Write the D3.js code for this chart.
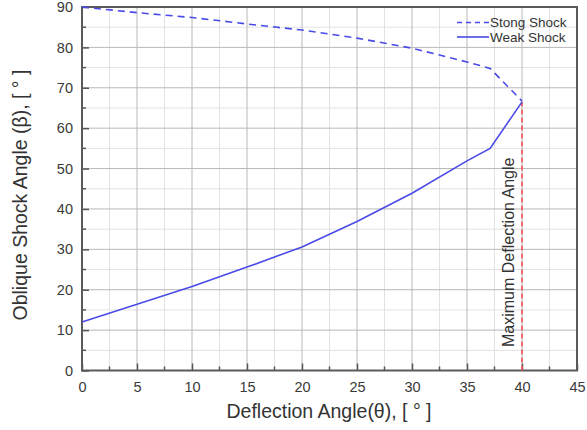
<!DOCTYPE html>
<html><head><meta charset="utf-8">
<script src="https://cdn.jsdelivr.net/npm/d3@7"></script>
<style>body{margin:0;background:#fff}svg{display:block}</style>
</head><body>
<script>
const strongTheta = [0, 5, 10, 15, 20, 25, 30, 35, 37.1, 40];
const strongBeta  = [90, 88.6, 87.4, 85.8, 84.3, 82.3, 79.8, 76.4, 74.8, 66.7];
const weakTheta = [0, 5, 10, 15, 20, 25, 30, 35, 37.1, 40];
const weakBeta  = [12, 16.4, 20.8, 25.6, 30.6, 36.9, 43.9, 51.9, 55.0, 66.5];
const maxDeflection = 40;
const xTicks = [0, 5, 10, 15, 20, 25, 30, 35, 40, 45];
const yTicks = [0, 10, 20, 30, 40, 50, 60, 70, 80, 90];
const legendLabels = ["Stong Shock", "Weak Shock"];

const W = 587, H = 430;
const svg = d3.select("body").append("svg").attr("width", W).attr("height", H);
const x = d3.scaleLinear().domain([0, 45]).range([82, 577]);
const y = d3.scaleLinear().domain([0, 90]).range([370.5, 7]);
const font = "Liberation Sans, Arial, sans-serif";

const minorX = d3.range(2.5, 45, 5);
const minorY = d3.range(5, 90, 10);
const g = svg.append("g");
// minor grid
g.selectAll(".mgx").data(minorX).join("line")
  .attr("x1", d => x(d)).attr("x2", d => x(d)).attr("y1", y(0)).attr("y2", y(90))
  .attr("stroke", "#e2e2e2").attr("stroke-width", 1);
g.selectAll(".mgy").data(minorY).join("line")
  .attr("y1", d => y(d)).attr("y2", d => y(d)).attr("x1", x(0)).attr("x2", x(45))
  .attr("stroke", "#e2e2e2").attr("stroke-width", 1);
// major grid
g.selectAll(".gx").data(xTicks).join("line")
  .attr("x1", d => x(d)).attr("x2", d => x(d)).attr("y1", y(0)).attr("y2", y(90))
  .attr("stroke", "#b8b8b8").attr("stroke-width", 1);
g.selectAll(".gy").data(yTicks).join("line")
  .attr("y1", d => y(d)).attr("y2", d => y(d)).attr("x1", x(0)).attr("x2", x(45))
  .attr("stroke", "#b8b8b8").attr("stroke-width", 1);

// axes
const xAxis = d3.axisBottom(x).tickValues(xTicks).tickSize(-7).tickPadding(14).tickFormat(d3.format("d"));
const yAxis = d3.axisLeft(y).tickValues(yTicks).tickSize(-7).tickPadding(9).tickFormat(d3.format("d"));
const gx = svg.append("g").attr("transform", `translate(0,${y(0)})`).call(xAxis);
const gy = svg.append("g").attr("transform", `translate(${x(0)},0)`).call(yAxis);
[gx, gy].forEach(a => {
  a.select(".domain").remove();
  a.selectAll(".tick line").attr("stroke", "#555").attr("stroke-width", 1.5);
  a.selectAll(".tick text").attr("fill", "#3a3a3a").style("font-family", font).style("font-size", "14.5px");
});
gx.selectAll(".tick text").attr("dy", "0.35em").attr("y", 16);
// minor ticks
svg.selectAll(".mtx").data(minorX).join("line")
  .attr("x1", d => x(d)).attr("x2", d => x(d)).attr("y1", y(0)).attr("y2", y(0) - 4)
  .attr("stroke", "#555").attr("stroke-width", 1.5);
svg.selectAll(".mty").data(minorY).join("line")
  .attr("y1", d => y(d)).attr("y2", d => y(d)).attr("x1", x(0)).attr("x2", x(0) + 4)
  .attr("stroke", "#555").attr("stroke-width", 1.5);
// frame
svg.append("rect").attr("x", x(0)).attr("y", y(90)).attr("width", x(45) - x(0)).attr("height", y(0) - y(90))
  .attr("fill", "none").attr("stroke", "#5a5a5a").attr("stroke-width", 2);

// red vertical line
svg.append("line").attr("x1", x(maxDeflection)).attr("x2", x(maxDeflection))
  .attr("y1", y(0)).attr("y2", y(weakBeta[weakBeta.length - 1]))
  .attr("stroke", "#f0505a").attr("stroke-width", 1.6).attr("stroke-dasharray", "5,3");

const line = d3.line().x(d => x(d[0])).y(d => y(d[1]));
const blue = "#4a4ae8";
svg.append("path").datum(strongTheta.map((t, i) => [t, strongBeta[i]])).attr("d", line)
  .attr("fill", "none").attr("stroke", blue).attr("stroke-width", 1.6).attr("stroke-dasharray", "7,5");
svg.append("path").datum(weakTheta.map((t, i) => [t, weakBeta[i]])).attr("d", line)
  .attr("fill", "none").attr("stroke", blue).attr("stroke-width", 1.6);

// Max deflection label
svg.append("text").attr("transform", `translate(508,347) rotate(-90)`)
  .attr("dy", "0.35em").attr("fill", "#333").style("font-family", font).style("font-size", "16px")
  .text("Maximum Deflection Angle");

// legend
const lg = svg.append("g");
legendLabels.forEach((lab, i) => {
  const yy = 22.5 + i * 14.5;
  lg.append("line").attr("x1", 457).attr("x2", 489).attr("y1", yy).attr("y2", yy)
    .attr("stroke", blue).attr("stroke-width", 1.6).attr("stroke-dasharray", i === 0 ? "5,4" : null);
  lg.append("text").attr("x", 490).attr("y", yy).attr("dy", "0.35em").attr("fill", "#333")
    .style("font-family", font).style("font-size", "13.5px").text(lab);
});

// axis titles
svg.append("text").attr("x", 329).attr("y", 411).attr("dy", "0.35em").attr("text-anchor", "middle")
  .attr("fill", "#333").style("font-family", font).style("font-size", "19.5px")
  .text("Deflection Angle(θ), [ ° ]");
svg.append("text").attr("transform", "translate(20,195) rotate(-90)").attr("dy", "0.35em")
  .attr("text-anchor", "middle").attr("fill", "#333").style("font-family", font).style("font-size", "19.5px")
  .text("Oblique Shock Angle (β), [ ° ]");
</script>
</body></html>
